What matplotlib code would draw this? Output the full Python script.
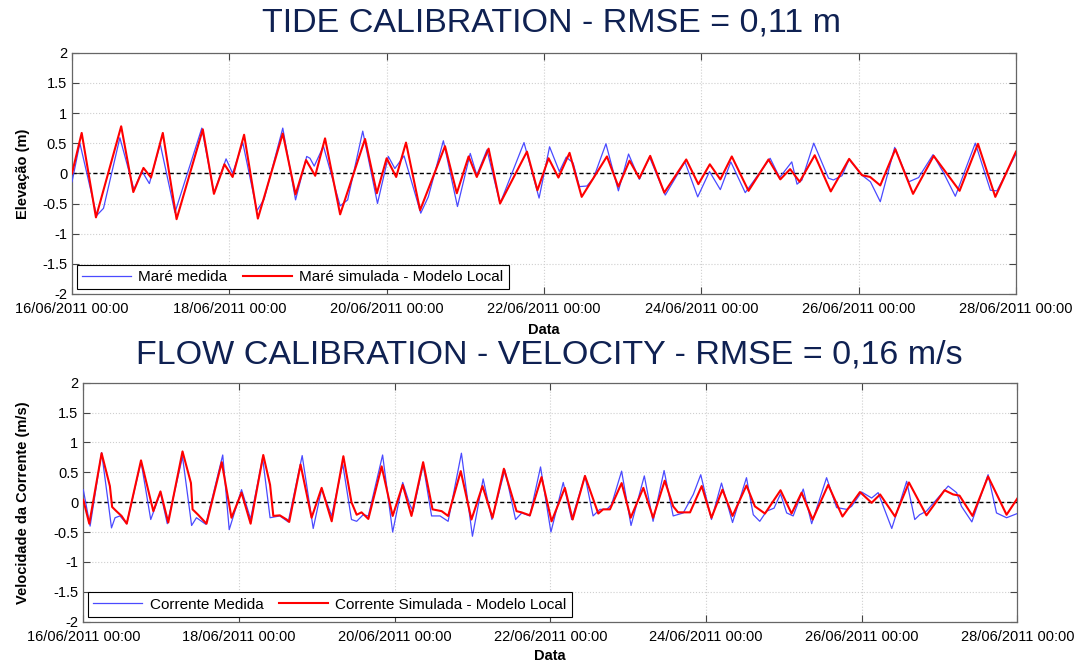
import numpy as np
import matplotlib
matplotlib.use('Agg')
import matplotlib.pyplot as plt
import matplotlib.dates as mdates
from matplotlib import font_manager

# time in hours since 16/06/2011 00:00
tide_obs_h = [0, 2.4, 7.5, 9.6, 14.6, 18.9, 21.3, 23.6, 26.9, 31.4, 39.6, 43.3, 47.0, 49.0, 52.1, 56.4,
              58.6, 64.3, 68.2, 71.6, 72.6, 73.9, 76.7, 81.8, 84.1, 88.7, 93.2, 96.5, 98.5, 101.3, 106.4,
              108.7, 113.3, 117.6, 121.5, 123.5, 126.6, 130.6, 137.9, 142.5, 145.7, 148.7, 150.8, 152.9,
              154.8, 157.1, 159.1, 162.9, 166.7, 169.8, 173.1, 176.2, 181.0, 187.0, 190.9, 194.5, 197.8,
              201.0, 205.4, 213.0, 215.9, 219.6, 221.2, 222.7, 226.3, 230.8, 232.3, 234.9, 237.1, 241.0,
              243.6, 246.6, 251.0, 255.3, 258.3, 262.7, 266.0, 269.5, 275.6, 280.2, 282.2, 288]
tide_obs = [-0.14, 0.50, -0.70, -0.58, 0.59, -0.27, 0.04, -0.17, 0.49, -0.65, 0.75, -0.33, 0.24, 0.0, 0.51, -0.62,
            -0.43, 0.75, -0.44, 0.28, 0.25, 0.12, 0.45, -0.54, -0.44, 0.70, -0.50, 0.28, 0.08, 0.29, -0.66,
            -0.39, 0.54, -0.55, 0.33, -0.03, 0.39, -0.50, 0.51, -0.41, 0.44, 0.03, 0.27, 0.17,
            -0.22, -0.21, -0.08, 0.49, -0.29, 0.32, -0.10, 0.27, -0.36, 0.19, -0.39, 0.03, -0.27,
            0.19, -0.32, 0.25, -0.07, 0.19, -0.18, -0.11, 0.50, -0.08, -0.11, -0.04, 0.23, -0.03,
            -0.14, -0.47, 0.43, -0.14, -0.07, 0.31, 0.0, -0.38, 0.50, -0.28, -0.29, 0.32]

tide_sim_h = [0, 2.95, 7.3, 15.0, 18.7, 21.8, 24.1, 27.7, 31.9, 39.9, 43.3, 46.5, 49.0, 52.5, 56.7, 64.3,
              68.2, 71.4, 74.2, 77.2, 81.8, 89.4, 93.0, 96.0, 98.9, 101.9, 106.2, 113.8, 117.4, 121.0,
              123.5, 127.1, 130.6, 138.8, 142.0, 145.4, 148.4, 151.8, 155.5, 163.2, 166.7, 170.1, 173.1,
              176.4, 180.7, 187.4, 191.1, 194.6, 197.8, 201.3, 206.4, 212.5, 216.1, 219.1, 222.0, 226.6,
              231.5, 237.1, 241.0, 243.5, 246.6, 251.2, 256.6, 262.9, 270.8, 276.4, 281.7, 288]
tide_sim = [0.0, 0.67, -0.73, 0.78, -0.31, 0.09, -0.07, 0.67, -0.76, 0.73, -0.34, 0.15, -0.06, 0.64, -0.75, 0.66,
            -0.35, 0.22, -0.04, 0.58, -0.68, 0.57, -0.33, 0.25, -0.06, 0.51, -0.61, 0.45, -0.33, 0.28,
            -0.06, 0.41, -0.50, 0.36, -0.28, 0.25, -0.07, 0.34, -0.39, 0.28, -0.22, 0.21, -0.08,
            0.29, -0.32, 0.23, -0.18, 0.15, -0.10, 0.28, -0.29, 0.23, -0.10, 0.07, -0.14, 0.30,
            -0.30, 0.24, -0.03, -0.06, -0.20, 0.40, -0.34, 0.29, -0.29, 0.49, -0.39, 0.36]

vel_obs_h = [0, 2.1, 5.65, 7.7, 8.7, 9.8, 11.3, 13.4, 17.8, 20.8, 23.8, 25.9, 30.6, 32.9, 33.4, 34.9, 37.8,
             43.0, 45.0, 48.8, 51.6, 55.3, 57.6, 60.6, 63.2, 67.5, 70.9, 73.5, 76.6, 80.0, 82.7, 84.3,
             86.3, 87.9, 92.3, 95.4, 98.5, 100.7, 101.7, 104.8, 107.4, 110.0, 112.5, 116.6, 120.0, 123.3,
             126.0, 130.0, 133.3, 135.2, 137.7, 141.0, 144.2, 148.0, 150.6, 154.7, 157.2, 159.3, 161.4,
             162.9, 166.0, 168.9, 173.0, 175.7, 179.1, 181.9, 185.0, 188.1, 190.4, 193.7, 196.8, 200.2,
             204.5, 206.6, 208.6, 210.7, 213.0, 215.0, 216.9, 218.9, 222.0, 224.6, 229.2, 232.3, 235.4,
             236.9, 240.0, 243.1, 245.1, 249.3, 253.9, 256.4, 257.9, 260.0, 266.7, 269.3, 270.8, 274.0,
             279.0, 281.6, 284.7, 288]
vel_obs = [0.21, -0.40, 0.83, -0.01, -0.43, -0.26, -0.23, -0.36, 0.68, -0.29, 0.16, -0.36, 0.76, -0.18, -0.39, -0.26, -0.37,
           0.79, -0.46, 0.21, -0.28, 0.74, -0.26, -0.23, -0.33, 0.78, -0.44, 0.22, -0.23, 0.64, -0.29, -0.32,
           -0.21, -0.23, 0.79, -0.50, 0.33, -0.04, -0.15, 0.63, -0.23, -0.23, -0.32, 0.82, -0.57, 0.39,
           -0.29, 0.54, -0.29, -0.18, -0.23, 0.59, -0.50, 0.33, -0.29, 0.44, -0.23, -0.12, -0.12,
           -0.04, 0.52, -0.39, 0.44, -0.32, 0.53, -0.23, -0.18, 0.13, 0.46, -0.29, 0.32, -0.34,
           0.41, -0.21, -0.32, -0.15, -0.10, 0.14, -0.18, -0.23, 0.22, -0.36, 0.41, -0.09, -0.12,
           -0.07, 0.17, 0.07, 0.16, -0.44, 0.35, -0.29, -0.21, -0.15, 0.27, 0.16, -0.07, -0.33,
           0.46, -0.18, -0.26, -0.19]

vel_sim_h = [0, 1.85, 5.65, 8.2, 8.9, 10.2, 11.8, 13.4, 17.8, 21.6, 23.8, 26.2, 30.6, 33.2, 33.7, 35.4, 38.0,
             42.7, 45.7, 48.8, 51.6, 55.5, 57.6, 58.6, 60.6, 62.7, 63.5, 67.0, 70.4, 73.5, 76.6, 80.2, 82.7,
             84.3, 85.8, 87.9, 92.0, 95.4, 98.5, 101.2, 104.8, 107.7, 110.5, 112.5, 116.4, 119.7, 123.1,
             126.2, 129.7, 133.6, 135.1, 137.7, 141.3, 144.4, 148.5, 150.9, 154.7, 158.8, 160.3, 162.4,
             166.0, 168.8, 172.7, 175.7, 179.3, 181.9, 183.4, 187.1, 190.7, 193.7, 197.1, 200.2, 204.5,
             207.1, 210.2, 215.0, 218.4, 221.5, 224.9, 229.7, 234.1, 239.5, 243.1, 245.7, 250.3, 254.6,
             260.0, 265.6, 268.2, 270.2, 274.2, 279.0, 284.7, 288]
vel_sim = [0.04, -0.36, 0.82, 0.27, -0.08, -0.15, -0.23, -0.36, 0.70, -0.15, 0.18, -0.34, 0.85, 0.32, -0.12, -0.21, -0.36,
           0.67, -0.26, 0.16, -0.36, 0.79, 0.29, -0.23, -0.22, -0.29, -0.33, 0.63, -0.26, 0.24, -0.32, 0.77, 0.0,
           -0.21, -0.17, -0.28, 0.60, -0.23, 0.29, -0.23, 0.67, -0.12, -0.15, -0.23, 0.52, -0.29, 0.27,
           -0.26, 0.56, -0.15, -0.17, -0.22, 0.42, -0.32, 0.24, -0.29, 0.44, -0.19, -0.12, -0.12,
           0.32, -0.26, 0.24, -0.26, 0.36, -0.07, -0.17, -0.17, 0.27, -0.26, 0.21, -0.23, 0.28,
           -0.07, -0.19, 0.20, -0.19, 0.16, -0.29, 0.29, -0.24, 0.17, -0.01, 0.13, -0.24, 0.33,
           -0.22, 0.20, 0.13, 0.11, -0.23, 0.43, -0.21, 0.06]

START = np.datetime64('2011-06-16T00:00')
NAVY = '#0f2152'


def to_dates(hours):
    return START + (np.array(hours) * 60).round().astype(int).astype('timedelta64[m]')


names = {f.name for f in font_manager.fontManager.ttflist}
title_font = 'Liberation Sans Narrow' if 'Liberation Sans Narrow' in names else 'Liberation Sans'
title_size = 29 if title_font == 'Liberation Sans Narrow' else 24.5
plt.rcParams['font.family'] = ['Liberation Sans', 'DejaVu Sans']


def style_axes(ax, ylabel, ylab_x, xlab_y):
    ax.set_xlim(START, START + np.timedelta64(12, 'D'))
    ax.set_ylim(-2, 2)
    ax.set_yticks(np.arange(-2, 2.01, 0.5))
    ax.set_yticklabels(['%g' % v for v in np.arange(-2, 2.01, 0.5)])
    ax.set_xticks(to_dates(np.arange(0, 289, 48)))
    ax.xaxis.set_major_formatter(mdates.DateFormatter('%d/%m/%Y %H:%M'))
    ax.tick_params(direction='in', top=True, right=True, length=5, width=0.8,
                   labelsize=10.5, color='#444444')
    ax.tick_params(axis='x', pad=6)
    ax.grid(True, color='#cfcfcf', linestyle=':', linewidth=0.8)
    for s in ax.spines.values():
        s.set_color('#666666')
        s.set_linewidth(0.9)
    ax.axhline(0, color='black', linestyle='--', linewidth=1.0, dashes=(3, 2), zorder=3)
    ax.set_xlabel('Data', fontweight='bold', fontsize=10.5)
    ax.xaxis.set_label_coords(0.5, xlab_y)
    ax.set_ylabel(ylabel, fontweight='bold', fontsize=10.5)
    ax.yaxis.set_label_coords(ylab_x, 0.5)


def add_legend(ax):
    leg = ax.legend(loc='lower left', ncol=2, fontsize=11, frameon=True, fancybox=False,
                    edgecolor='black', handlelength=3.2, borderaxespad=0.3, columnspacing=1.0,
                    handletextpad=0.5, framealpha=1, borderpad=0.35)
    leg.get_frame().set_linewidth(0.8)


fig = plt.figure(figsize=(10.83, 6.62), dpi=100)
ax1 = fig.add_axes([0.0665, 0.5559, 0.8716, 0.3645])
ax2 = fig.add_axes([0.0769, 0.0609, 0.8624, 0.3610])

ax1.plot(to_dates(tide_obs_h), tide_obs, color='#4a4aff', linewidth=0.9, label='Maré medida', zorder=4)
ax1.plot(to_dates(tide_sim_h), tide_sim, color='#ff0000', linewidth=1.5,
         label='Maré simulada - Modelo Local', zorder=5)
style_axes(ax1, 'Elevação (m)', -0.045, -0.12)
add_legend(ax1)

ax2.plot(to_dates(vel_obs_h), vel_obs, color='#4a4aff', linewidth=0.9, label='Corrente Medida', zorder=4)
ax2.plot(to_dates(vel_sim_h), vel_sim, color='#ff0000', linewidth=1.5,
         label='Corrente Simulada - Modelo Local', zorder=5)
style_axes(ax2, 'Velocidade da Corrente (m/s)', -0.057, -0.115)
add_legend(ax2)

fig.text(551 / 1083, 1 - 23 / 662, 'TIDE CALIBRATION - RMSE = 0,11 m', ha='center', va='center',
         fontsize=title_size, color=NAVY, family=title_font)
fig.text(549 / 1083, 1 - 355 / 662, 'FLOW CALIBRATION - VELOCITY - RMSE = 0,16 m/s', ha='center',
         va='center', fontsize=title_size, color=NAVY, family=title_font)

fig.savefig('out.png', dpi=100)
